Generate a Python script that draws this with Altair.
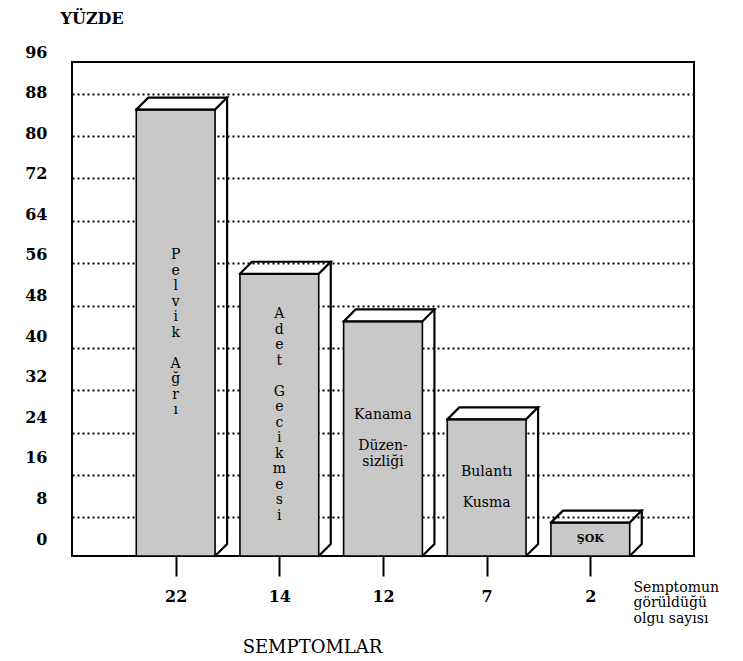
import altair as alt
import pandas as pd

# ---------------- data ----------------
SYMPTOMS = ["Pelvik Ağrı", "Adet Gecikmesi", "Kanama Düzensizliği", "Bulantı Kusma", "ŞOK"]
PERCENT = [85, 54, 45, 26.5, 7]          # YÜZDE
CASES = [22, 14, 12, 7, 2]               # Semptomun görüldüğü olgu sayısı
BAR_TEXT = [                             # printed lines inside each bar ("" = blank line)
    list("Pelvik") + [""] + list("Ağrı"),
    list("Adet") + [""] + list("Gecikmesi"),
    ["Kanama", "", "Düzen-", "sizliği"],
    ["Bulantı", "", "Kusma"],
    ["ŞOK"],
]
Y_TICK_LABELS = [96, 88, 80, 72, 64, 56, 48, 40, 32, 24, 16, 8, 0]
GRID_VALUES = [8, 16, 24, 32, 40, 48, 56, 64, 72, 80, 88]
NOTE = ["Semptomun", "görüldüğü", "olgu sayısı"]

# ---------------- style / layout constants ----------------
SERIF = "DejaVu Serif"
BASE = 0.7        # printed frame floor sits slightly above zero
Y_TOP = 94.0
PLOT_H = 494
PX_PER_UNIT = PLOT_H / (Y_TOP - BASE)
HALF = 0.38       # half bar width (x units)
DX = 0.116        # 3-D depth in x units
DY = 2.27         # 3-D depth in y units
LINE_H = 15.5     # px
LINE_H_U = LINE_H / PX_PER_UNIT
FILL = "#c8c8c8"

pos = list(range(1, len(SYMPTOMS) + 1))
front = pd.DataFrame({"symptom": SYMPTOMS, "pos": pos, "value": PERCENT})
front["x0"] = front["pos"] - HALF
front["x1"] = front["pos"] + HALF
front["base"] = BASE

# one row per printed line, centred vertically in the bar
text_rows = []
for p, v, lines in zip(pos, PERCENT, BAR_TEXT):
    n = len(lines)
    mid = (v + BASE) / 2
    for j, line in enumerate(lines):
        if line:
            text_rows.append({"pos": p, "line": line,
                              "ty": mid + ((n - 1) / 2 - j) * LINE_H_U})
texts = pd.DataFrame(text_rows)

rows = []
for i, (p, v) in enumerate(zip(pos, PERCENT)):
    x0, x1 = p - HALF, p + HALF
    top = [(x0, v), (x0 + DX, v + DY), (x1 + DX, v + DY), (x1, v), (x0, v)]
    side = [(x1 + DX, v + DY), (x1 + DX, BASE + DY), (x1, BASE)]
    for k, (px, py) in enumerate(top):
        rows.append({"face": f"t{i}", "k": k, "px": px, "py": py})
    for k, (px, py) in enumerate(side):
        rows.append({"face": f"s{i}", "k": k, "px": px, "py": py})
poly = pd.DataFrame(rows)

xscale = alt.Scale(domain=[0, 6], nice=False, zero=False)
yscale = alt.Scale(domain=[BASE, Y_TOP], nice=False, zero=False)

label_expr = "[" + ",".join(f"'{c}'" for c in CASES) + "][datum.value - 1]"
x_axis = alt.Axis(
    values=pos, labelExpr=label_expr, tickSize=20, tickWidth=2, tickColor="black",
    domain=False, grid=False, labelFont=SERIF, labelFontSize=16, labelFontWeight="bold",
    labelColor="black", labelPadding=12, labelOverlap=False,
    title="SEMPTOMLAR", titleFont=SERIF, titleFontSize=18, titleFontWeight="normal",
    titleColor="black", titleX=240, titleY=91, titleAlign="center", titleBaseline="middle",
)
y_axis_main = alt.Axis(
    orient="right", values=GRID_VALUES, grid=True, gridColor="black", gridDash=[2, 3],
    gridWidth=1.8, gridOpacity=1, labels=False, ticks=False, domain=False,
    title=NOTE, titleAngle=0, titleX=-61, titleY=518, titleAlign="left",
    titleBaseline="top", titleFont=SERIF, titleFontSize=14, titleFontWeight="normal",
    titleLineHeight=15.5, titleColor="black",
)

front_layer = alt.Chart(front).mark_rect(fill=FILL, stroke="black", strokeWidth=1.6).encode(
    x=alt.X("x0:Q", scale=xscale, axis=x_axis),
    x2="x1:Q",
    y=alt.Y("value:Q", scale=yscale, axis=y_axis_main),
    y2="base:Q",
)

poly_layer = alt.Chart(poly).mark_line(
    stroke="black", strokeWidth=2.2, strokeJoin="miter", strokeCap="square"
).encode(
    x=alt.X("px:Q", scale=xscale, axis=x_axis),
    y=alt.Y("py:Q", scale=yscale, axis=y_axis_main),
    detail="face:N",
    order="k:Q",
)

text_main = alt.Chart(texts).transform_filter("datum.pos < 5").mark_text(
    font=SERIF, fontSize=14, baseline="middle", align="center", color="black"
).encode(
    x=alt.X("pos:Q", scale=xscale, axis=x_axis),
    y=alt.Y("ty:Q", scale=yscale, axis=y_axis_main),
    text=alt.Text("line:N"),
)

text_small = alt.Chart(texts).transform_filter("datum.pos == 5").mark_text(
    font=SERIF, fontSize=11, fontWeight="bold", baseline="middle", align="center", color="black"
).encode(
    x=alt.X("pos:Q", scale=xscale, axis=x_axis),
    y=alt.Y("ty:Q", scale=yscale, axis=y_axis_main),
    text=alt.Text("line:N"),
)

main = alt.layer(front_layer, poly_layer, text_main, text_small)

label_axis = alt.Axis(
    orient="left", values=Y_TICK_LABELS, ticks=False, tickSize=0, domain=False, grid=False,
    labelFont=SERIF, labelFontSize=16, labelFontWeight="bold", labelColor="black",
    labelPadding=25, labelOverlap=False, labelBaseline="middle",
    title="YÜZDE", titleAngle=0, titleX=-12, titleY=-44, titleAlign="left",
    titleBaseline="middle", titleFont=SERIF, titleFontSize=16, titleFontWeight="bold",
    titleColor="black",
)
# the printed tick labels run on their own, slightly compressed, spacing
label_layer = alt.Chart(pd.DataFrame({"tick": Y_TICK_LABELS})).mark_point(opacity=0).encode(
    y=alt.Y("tick:Q", scale=alt.Scale(domain=[0, 96], range=[477, -10], nice=False, zero=False),
            axis=label_axis),
)

chart = alt.layer(main, label_layer).resolve_scale(y="independent").properties(
    width=622, height=PLOT_H,
    autosize=alt.AutoSizeParams(type="none"),
    padding={"left": 64, "top": 54, "right": 41, "bottom": 100},
    background="white",
).configure_view(stroke="black", strokeWidth=2)

chart.save("out.html", embed_options={"renderer": "svg", "actions": False})
